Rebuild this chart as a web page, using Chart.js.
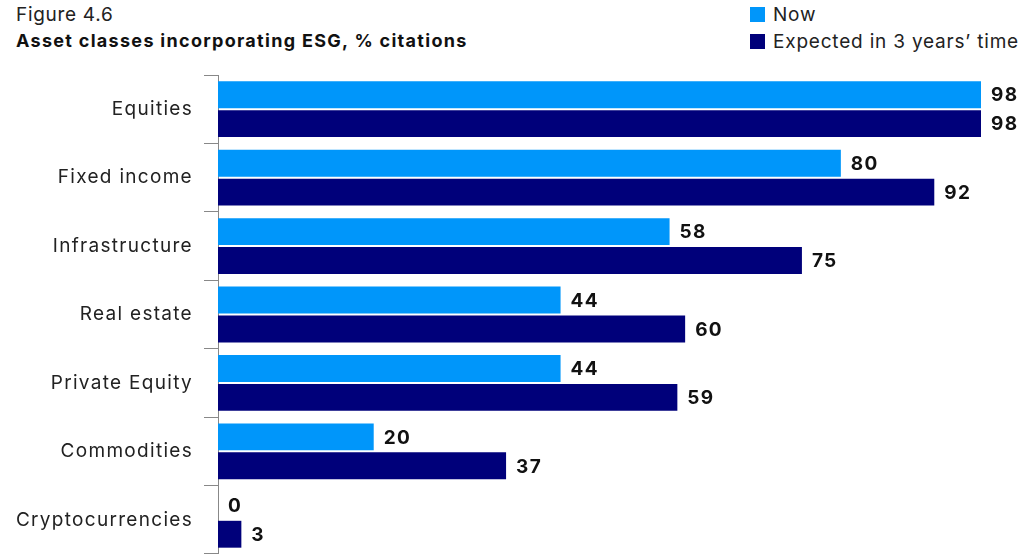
<!DOCTYPE html>
<html>
<head>
<meta charset="utf-8">
<script src="https://cdn.jsdelivr.net/npm/chart.js@4/dist/chart.umd.min.js"></script>
<style>
  body { margin: 0; background: #fff; font-family: Inter, "Noto Sans", sans-serif; color: #111; }
  #wrap { position: relative; width: 1020px; height: 554px; }
  #fig { position: absolute; left: 16px; top: 3px; font-size: 19px; letter-spacing: 0.7px; color: #222; }
  #title { position: absolute; left: 16px; top: 30px; font-size: 18px; font-weight: 700; letter-spacing: 1.3px; }
  .leg { position: absolute; left: 750px; font-size: 19px; color: #222; letter-spacing: 0.8px; }
  .sw { display: inline-block; width: 15px; height: 15px; margin-right: 8px; vertical-align: -1px; }
  canvas { position: absolute; left: 0; top: 0; }
</style>
</head>
<body>
<div id="wrap">
  <div id="fig">Figure 4.6</div>
  <div id="title">Asset classes incorporating ESG, % citations</div>
  <div class="leg" style="top:3px"><span class="sw" style="background:#0096fa"></span>Now</div>
  <div class="leg" style="top:30px"><span class="sw" style="background:#00007a"></span>Expected in 3 years’ time</div>
  <canvas id="myChart" width="1020" height="554"></canvas>
</div>
<script>
var categories = ["Equities", "Fixed income", "Infrastructure", "Real estate", "Private Equity", "Commodities", "Cryptocurrencies"];
var nowValues = [98, 80, 58, 44, 44, 20, 0];
var expectedValues = [98, 92, 75, 60, 59, 37, 3];

// wider text, to get closer to the original typeface
var spacing = {
    id: "spacing",
    beforeLayout: function (chart) { chart.ctx.letterSpacing = "1.3px"; },
    beforeDraw: function (chart) { chart.ctx.letterSpacing = "1.3px"; }
};

var valueLabels = {
    id: "valueLabels",
    afterDatasetsDraw: function (chart) {
        var ctx = chart.ctx;
        ctx.save();
        ctx.font = "bold 19px Inter, sans-serif";
        ctx.letterSpacing = "1.3px";
        ctx.fillStyle = "#111";
        ctx.textBaseline = "middle";
        chart.data.datasets.forEach(function (ds, i) {
            chart.getDatasetMeta(i).data.forEach(function (bar, j) {
                ctx.fillText(ds.data[j], bar.x + 10, bar.y + 1);
            });
        });
        ctx.restore();
    }
};

var chart = new Chart(document.getElementById("myChart").getContext("2d"), {
    type: "bar",
    data: {
        labels: categories,
        datasets: [
            {
                label: "Now",
                data: nowValues,
                backgroundColor: "#0096fa",
                categoryPercentage: 0.845,
                barPercentage: 0.93
            },
            {
                label: "Expected in 3 years’ time",
                data: expectedValues,
                backgroundColor: "#00007a",
                categoryPercentage: 0.845,
                barPercentage: 0.93
            }
        ]
    },
    options: {
        indexAxis: "y",
        responsive: false,
        animation: false,
        layout: { padding: { top: 75, bottom: -2, right: 39, left: 0 } },
        plugins: { legend: { display: false }, tooltip: { enabled: false } },
        scales: {
            x: {
                display: false,
                min: 0,
                max: 98
            },
            y: {
                afterFit: function (scale) {
                    scale.width = 218;
                    scale.paddingTop = 0;
                    scale.paddingBottom = 0;
                },
                grid: {
                    drawOnChartArea: false,
                    drawTicks: true,
                    tickLength: 14,
                    color: "#888",
                    offset: true
                },
                border: { display: true, color: "#888", width: 1 },
                ticks: {
                    color: "#222",
                    padding: 11,
                    font: { family: "Inter, sans-serif", size: 19 }
                }
            }
        }
    },
    plugins: [spacing, valueLabels]
});
</script>
</body>
</html>
